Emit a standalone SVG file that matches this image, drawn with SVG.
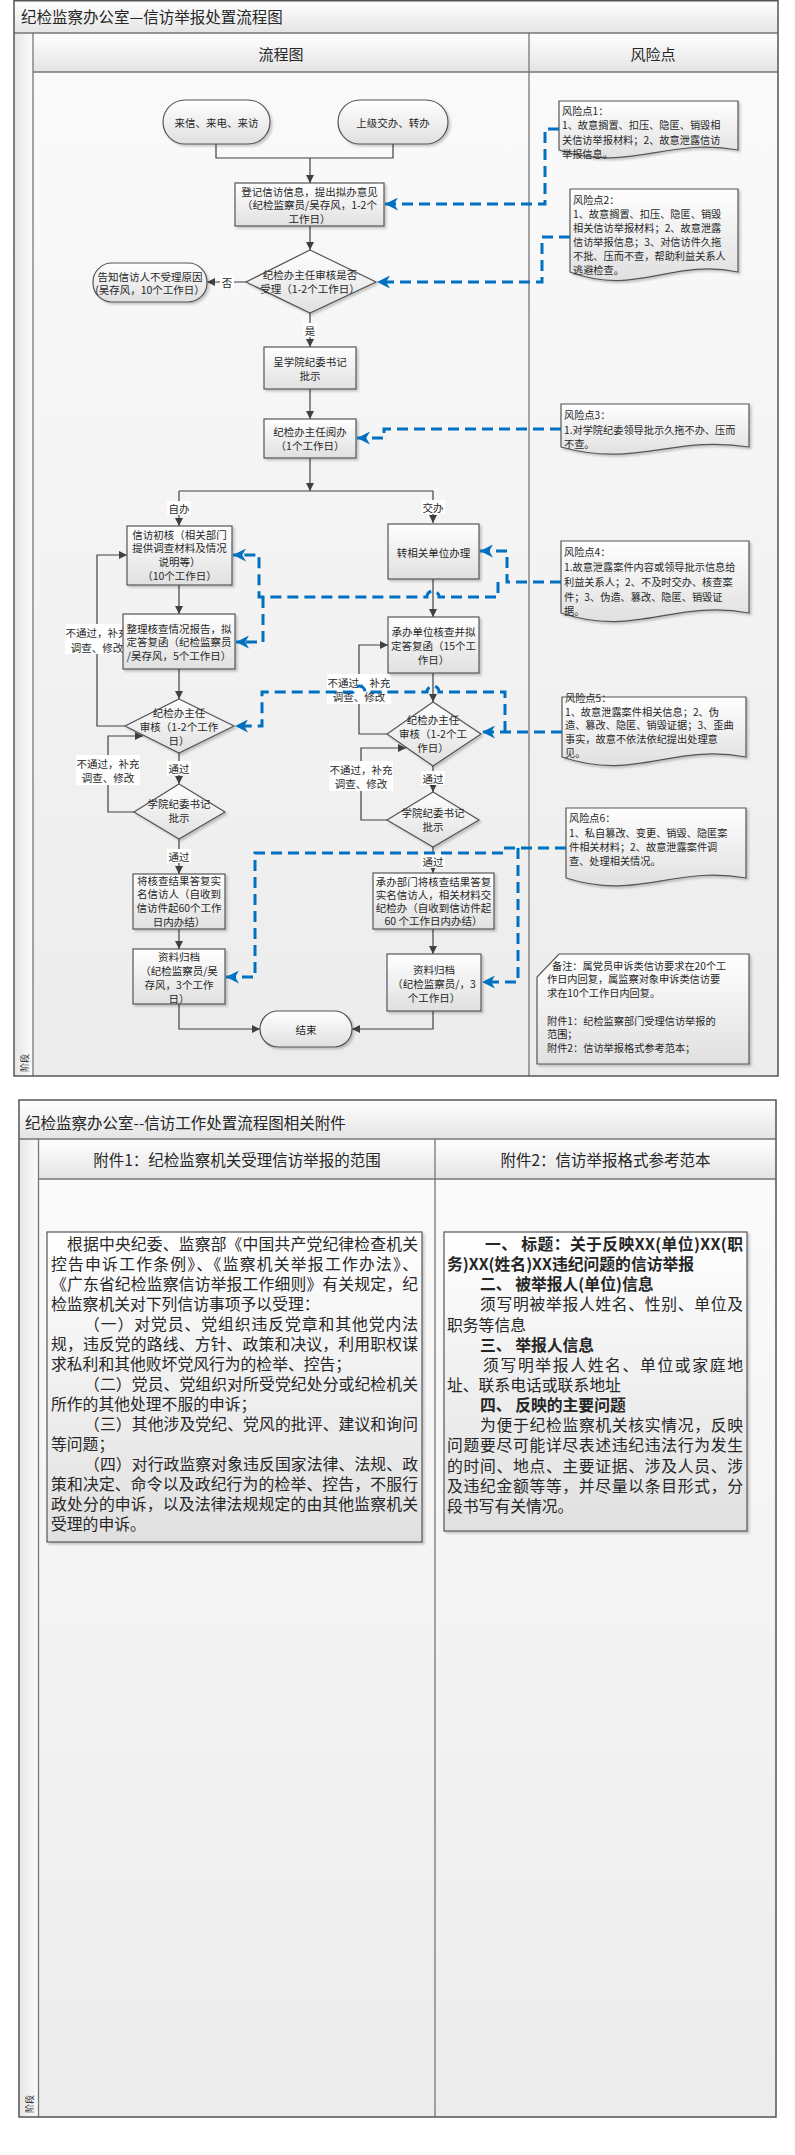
<svg xmlns="http://www.w3.org/2000/svg" width="795" height="2155" viewBox="0 0 795 2155">
<style>
.t{font-family:"Noto Sans CJK SC","Liberation Sans",sans-serif;fill:#262626}
.n{font-size:10.5px;text-anchor:middle;dominant-baseline:central}
.r{font-size:10.2px;dominant-baseline:central}
.h{font-size:15.5px;dominant-baseline:central}
.p{font-size:15.8px;dominant-baseline:central}
.b{font-weight:bold}
.box{fill:url(#gBox);stroke:#555;stroke-width:1.2;filter:url(#sh)}
.frame{fill:none;stroke:#555;stroke-width:1.5}
.sep{fill:none;stroke:#777;stroke-width:1.3}
.line{fill:none;stroke:#404040;stroke-width:1.2}
.arr{marker-end:url(#ah)}
.dash{fill:none;stroke:#0070c0;stroke-width:3;stroke-dasharray:11 6}
.darr{marker-end:url(#ab)}
.lbg{fill:#ffffff}
</style>
<defs>
<linearGradient id="gTitle" x1="0" y1="0" x2="0" y2="1"><stop offset="0" stop-color="#ffffff"/><stop offset="1" stop-color="#e4e4e4"/></linearGradient>
<linearGradient id="gBody" x1="0" y1="0" x2="0" y2="1"><stop offset="0" stop-color="#fafafa"/><stop offset="1" stop-color="#ececec"/></linearGradient>
<linearGradient id="gBox" x1="0" y1="0" x2="0" y2="1"><stop offset="0" stop-color="#ffffff"/><stop offset="1" stop-color="#e0e0e0"/></linearGradient>
<linearGradient id="gStrip" x1="0" y1="0" x2="1" y2="0"><stop offset="0" stop-color="#e6e6e6"/><stop offset="1" stop-color="#fbfbfb"/></linearGradient>
<filter id="sh" x="-10%" y="-10%" width="130%" height="130%"><feDropShadow dx="2" dy="2" stdDeviation="1.2" flood-color="#000" flood-opacity="0.2"/></filter>
<marker id="ah" viewBox="0 0 10 10" refX="10" refY="5" markerWidth="8" markerHeight="8" markerUnits="userSpaceOnUse" orient="auto"><path d="M0,0 L10,5 L0,10 z" fill="#404040"/></marker>
<marker id="ab" viewBox="0 0 12 12" refX="12" refY="6" markerWidth="13" markerHeight="13" markerUnits="userSpaceOnUse" orient="auto"><path d="M0,0 L12,6 L0,12 L3.5,6 z" fill="#0070c0"/></marker>
</defs>
<rect width="795" height="2155" fill="#ffffff"/>

<!-- Frame 1 -->
<g id="frame1">
<rect x="14" y="0.75" width="764" height="33" fill="url(#gTitle)"/>
<rect x="14" y="33" width="19" height="1043" fill="url(#gStrip)"/>
<rect x="33" y="33" width="745" height="39" fill="url(#gTitle)"/>
<rect x="33" y="72" width="496" height="1004" fill="url(#gBody)"/>
<rect x="529" y="72" width="249" height="1004" fill="url(#gBody)"/>
<path class="sep" d="M14,33 H778 M33,33 V1076 M33,72 H778 M529,33 V1076"/>
<rect class="frame" x="14" y="0.75" width="764" height="1075.25"/>
<text class="t h" x="21" y="16">纪检监察办公室—信访举报处置流程图</text>
<text class="t" x="281" y="53" font-size="15" text-anchor="middle" dominant-baseline="central">流程图</text>
<text class="t" x="653" y="53" font-size="15" text-anchor="middle" dominant-baseline="central">风险点</text>
<text class="t" x="24" y="1063" font-size="9" text-anchor="middle" dominant-baseline="central" transform="rotate(-90 24 1063)">阶段</text>
</g>

<!-- Frame 2 -->
<g id="frame2">
<rect x="19" y="1100" width="757" height="39" fill="url(#gTitle)"/>
<rect x="19" y="1139" width="19.5" height="978" fill="url(#gStrip)"/>
<rect x="38.5" y="1139" width="737.5" height="40" fill="url(#gTitle)"/>
<rect x="38.5" y="1179" width="396.5" height="938" fill="url(#gBody)"/>
<rect x="435" y="1179" width="341" height="938" fill="url(#gBody)"/>
<path class="sep" d="M19,1139 H776 M38.5,1139 V2117 M38.5,1179 H776 M435,1139 V2117"/>
<rect class="frame" x="19" y="1100" width="757" height="1017"/>
<text class="t h" x="25" y="1122">纪检监察办公室--信访工作处置流程图相关附件</text>
<text class="t h" x="237" y="1159" text-anchor="middle">附件1：纪检监察机关受理信访举报的范围</text>
<text class="t h" x="605.5" y="1159" text-anchor="middle">附件2：信访举报格式参考范本</text>
<text class="t" x="29" y="2104" font-size="9" text-anchor="middle" dominant-baseline="central" transform="rotate(-90 29 2104)">阶段</text>
</g>

<!-- Solid connectors and labels -->
<g id="connectors">
<path class="line" d="M216,144 V158 H393 V144"/>
<path class="line arr" d="M310,158 V183"/>
<path class="line arr" d="M310,226 V250"/>
<path class="line arr" d="M246,282 H207"/>
<path class="line arr" d="M310,313 V347"/>
<path class="line arr" d="M310,389 V419"/>
<path class="line arr" d="M310,458 V491"/>
<path class="line" d="M179,491 H433"/>
<path class="line arr" d="M179,491 V526"/>
<path class="line arr" d="M433,491 V523"/>
<path class="line arr" d="M179,585 V614"/>
<path class="line arr" d="M179,669 V699"/>
<path class="line arr" d="M125,726 H97 V555 H127"/>
<path class="line arr" d="M179,753 V784"/>
<path class="line arr" d="M134,812 H108 V736 H143"/>
<path class="line arr" d="M179,839 V874"/>
<path class="line arr" d="M179,929 V949"/>
<path class="line arr" d="M179,1004 V1029 H260"/>
<path class="line arr" d="M433,579 V617"/>
<path class="line arr" d="M433,673 V702"/>
<path class="line arr" d="M387,734 H359 V645 H388"/>
<path class="line arr" d="M433,766 V792"/>
<path class="line arr" d="M387,820 H361 V748 H406"/>
<path class="line arr" d="M433,847 V873"/>
<path class="line arr" d="M433,929 V954"/>
<path class="line arr" d="M433,1011 V1029 H352"/>

<rect class="lbg" x="220" y="275" width="14" height="14"/>
<text class="t n" x="227" y="282">否</text>
<rect class="lbg" x="303" y="323" width="14" height="14"/>
<text class="t n" x="310" y="330">是</text>
<rect class="lbg" x="167" y="501" width="24" height="14"/>
<text class="t n" x="179" y="508">自办</text>
<rect class="lbg" x="421" y="500" width="24" height="14"/>
<text class="t n" x="433" y="507">交办</text>
<rect class="lbg" x="65" y="624" width="64" height="30"/>
<text class="t n" x="97" y="632">不通过，补充</text>
<text class="t n" x="97" y="647">调查、修改</text>
<rect class="lbg" x="76" y="755" width="64" height="30"/>
<text class="t n" x="108" y="763">不通过，补充</text>
<text class="t n" x="108" y="777">调查、修改</text>
<rect class="lbg" x="167" y="761" width="24" height="14"/>
<text class="t n" x="179" y="768">通过</text>
<rect class="lbg" x="167" y="849" width="24" height="14"/>
<text class="t n" x="179" y="856">通过</text>
<rect class="lbg" x="327" y="674" width="64" height="30"/>
<text class="t n" x="359" y="682">不通过，补充</text>
<text class="t n" x="359" y="696">调查、修改</text>
<rect class="lbg" x="329" y="761" width="64" height="30"/>
<text class="t n" x="361" y="769">不通过，补充</text>
<text class="t n" x="361" y="783">调查、修改</text>
<rect class="lbg" x="421" y="771" width="24" height="14"/>
<text class="t n" x="433" y="778">通过</text>
<rect class="lbg" x="421" y="854" width="24" height="14"/>
<text class="t n" x="433" y="861">通过</text>
</g>

<!-- Nodes -->
<g id="n-start1"><rect class="box" x="163" y="100" width="107" height="44" rx="22"/><text class="t n" x="216.5" y="122">来信、来电、来访</text></g>
<g id="n-start2"><rect class="box" x="338" y="100" width="110" height="44" rx="22"/><text class="t n" x="393" y="122">上级交办、转办</text></g>
<g id="n-register"><rect class="box" x="235" y="183" width="149" height="43"/><text class="t n" x="309.5" y="191">登记信访信息，提出拟办意见</text><text class="t n" x="309.5" y="204">（纪检监察员/吴存风，1-2个</text><text class="t n" x="309.5" y="218">工作日）</text></g>
<g id="n-accept"><path class="box" d="M310,250 L376,282 L310,313 L246,282 Z"/><text class="t n" x="310" y="274">纪检办主任审核是否</text><text class="t n" x="310" y="288">受理（1-2个工作日）</text></g>
<g id="n-reject"><rect class="box" x="93" y="263" width="114" height="39" rx="19"/><text class="t n" x="150" y="276">告知信访人不受理原因</text><text class="t n" x="150" y="289">(吴存风，10个工作日）</text></g>
<g id="n-secretary"><rect class="box" x="264" y="347" width="92" height="42"/><text class="t n" x="310" y="361">呈学院纪委书记</text><text class="t n" x="310" y="375">批示</text></g>
<g id="n-director"><rect class="box" x="264" y="419" width="92" height="39"/><text class="t n" x="310" y="431">纪检办主任阅办</text><text class="t n" x="310" y="445">（1个工作日）</text></g>
<g id="n-initial"><rect class="box" x="127" y="526" width="105" height="59"/><text class="t n" x="179.5" y="534">信访初核（相关部门</text><text class="t n" x="179.5" y="547">提供调查材料及情况</text><text class="t n" x="179.5" y="561">说明等）</text><text class="t n" x="179.5" y="575">（10个工作日）</text></g>
<g id="n-transfer"><rect class="box" x="388" y="524" width="91" height="55"/><text class="t n" x="433.5" y="552">转相关单位办理</text></g>
<g id="n-report"><rect class="box" x="123" y="614" width="112" height="55"/><text class="t n" x="179" y="628">整理核查情况报告，拟</text><text class="t n" x="179" y="641">定答复函（纪检监察员</text><text class="t n" x="179" y="655">/吴存风，5个工作日）</text></g>
<g id="n-unit"><rect class="box" x="388" y="617" width="91" height="56"/><text class="t n" x="433.5" y="631">承办单位核查并拟</text><text class="t n" x="433.5" y="645">定答复函（15个工</text><text class="t n" x="433.5" y="659">作日）</text></g>
<g id="n-review1"><path class="box" d="M179,699 L234,726 L179,753 L125,726 Z"/><text class="t n" x="179" y="712">纪检办主任</text><text class="t n" x="179" y="726">审核（1-2个工作</text><text class="t n" x="179" y="740">日）</text></g>
<g id="n-approve1"><path class="box" d="M179,784 L225,812 L179,839 L134,812 Z"/><text class="t n" x="179" y="803">学院纪委书记</text><text class="t n" x="179" y="817">批示</text></g>
<g id="n-reply1"><rect class="box" x="133" y="874" width="92" height="55"/><text class="t n" x="179" y="880">将核查结果答复实</text><text class="t n" x="179" y="893">名信访人（自收到</text><text class="t n" x="179" y="907">信访件起60个工作</text><text class="t n" x="179" y="921">日内办结）</text></g>
<g id="n-archive1"><rect class="box" x="133" y="949" width="92" height="55"/><text class="t n" x="179" y="956">资料归档</text><text class="t n" x="179" y="970">（纪检监察员/吴</text><text class="t n" x="179" y="984">存风，3个工作</text><text class="t n" x="179" y="998">日）</text></g>
<g id="n-review2"><path class="box" d="M433,702 L481,734 L433,766 L387,734 Z"/><text class="t n" x="433" y="719">纪检办主任</text><text class="t n" x="433" y="733">审核（1-2个工</text><text class="t n" x="433" y="747">作日）</text></g>
<g id="n-approve2"><path class="box" d="M433,792 L479,820 L433,847 L387,820 Z"/><text class="t n" x="433" y="812">学院纪委书记</text><text class="t n" x="433" y="826">批示</text></g>
<g id="n-reply2"><rect class="box" x="373" y="873" width="121" height="56"/><text class="t n" x="433.5" y="881">承办部门将核查结果答复</text><text class="t n" x="433.5" y="894">实名信访人，相关材料交</text><text class="t n" x="433.5" y="907">纪检办（自收到信访件起</text><text class="t n" x="433.5" y="920">60 个工作日内办结）</text></g>
<g id="n-archive2"><rect class="box" x="387" y="954" width="94" height="57"/><text class="t n" x="434" y="969">资料归档</text><text class="t n" x="434" y="983">（纪检监察员/，3</text><text class="t n" x="434" y="997">个工作日）</text></g>
<g id="n-end"><rect class="box" x="260" y="1011" width="92" height="36" rx="18"/><text class="t n" x="306" y="1029">结束</text></g>

<!-- Risk points -->
<g id="risk1"><path class="box" d="M559,101 H738 V150 C666,137 631,173 559,150 Z"/>
<text class="t r" x="562" y="110">风险点1：</text><text class="t r" x="562" y="124">1、故意搁置、扣压、隐匿、销毁相</text><text class="t r" x="562" y="139">关信访举报材料；2、故意泄露信访</text><text class="t r" x="562" y="153">举报信息。</text></g>
<g id="risk2"><path class="box" d="M570,189 H738 V272 C671,258 637,297 570,272 Z"/>
<text class="t r" x="573" y="199">风险点2：</text><text class="t r" x="573" y="213">1、故意搁置、扣压、隐匿、销毁</text><text class="t r" x="573" y="227">相关信访举报材料；2、故意泄露</text><text class="t r" x="573" y="241">信访举报信息；3、对信访件久拖</text><text class="t r" x="573" y="255">不批、压而不查，帮助利益关系人</text><text class="t r" x="573" y="269">逃避检查。</text></g>
<g id="risk3"><path class="box" d="M561,404 H749 V447 C674,435 636,468 561,447 Z"/>
<text class="t r" x="564" y="414">风险点3：</text><text class="t r" x="564" y="429">1.对学院纪委领导批示久拖不办、压而</text><text class="t r" x="564" y="443">不查。</text></g>
<g id="risk4"><path class="box" d="M561,541 H749 V613 C674,599 636,638 561,613 Z"/>
<text class="t r" x="564" y="551">风险点4：</text><text class="t r" x="564" y="566">1.故意泄露案件内容或领导批示信息给</text><text class="t r" x="564" y="581">利益关系人；2、不及时交办、核查案</text><text class="t r" x="564" y="596">件；3、伪造、篡改、隐匿、销毁证</text><text class="t r" x="564" y="610">据。</text></g>
<g id="risk5"><path class="box" d="M562,697 H746 V757 C672,743 636,782 562,757 Z"/>
<text class="t r" x="565" y="697">风险点5：</text><text class="t r" x="565" y="711">1、故意泄露案件相关信息；2、伪</text><text class="t r" x="565" y="724">造、篡改、隐匿、销毁证据；3、歪曲</text><text class="t r" x="565" y="738">事实，故意不依法依纪提出处理意</text><text class="t r" x="565" y="752">见。</text></g>
<g id="risk6"><path class="box" d="M566,808 H746 V878 C674,865 638,901 566,878 Z"/>
<text class="t r" x="569" y="817">风险点6：</text><text class="t r" x="569" y="832">1、私自篡改、变更、销毁、隐匿案</text><text class="t r" x="569" y="846">件相关材料；2、故意泄露案件调</text><text class="t r" x="569" y="860">查、处理相关情况。</text></g>
<g id="note"><path class="box" d="M559,954 H749 V1064 H537 V977 Z"/>
<text class="t r" x="552" y="965" font-size="10.5">备注：属党员申诉类信访要求在20个工</text><text class="t r" x="547" y="978" font-size="10.5">作日内回复，属监察对象申诉类信访要</text><text class="t r" x="547" y="992" font-size="10.5">求在10个工作日内回复。</text><text class="t r" x="547" y="1020" font-size="10.5">附件1：纪检监察部门受理信访举报的</text><text class="t r" x="547" y="1033" font-size="10.5">范围；</text><text class="t r" x="547" y="1047" font-size="10.5">附件2：信访举报格式参考范本；</text></g>

<!-- Risk connectors (blue dashed) -->
<g id="risk-connectors">
<path class="dash darr" d="M559,129 H545 V204 H385"/>
<path class="dash darr" d="M570,237 H542 V282 H377"/>
<path class="dash darr" d="M561,429 H384 V438 H357"/>
<path class="dash darr" d="M561,582 H507 V551 H480"/>
<path class="dash darr" d="M498,582 V597 H439 A6,6 0 0 0 427,597 H259 V555 H233"/>
<path class="dash darr" d="M263,597 V642 H236"/>
<path class="dash darr" d="M562,732 H482"/>
<path class="dash darr" d="M505,732 V692 H439 A6,6 0 0 0 427,692 H365 A6,6 0 0 0 353,692 H262 V726 H235"/>
<path class="dash darr" d="M566,848 H503 V853 H255 V977 H226"/>
<path class="dash darr" d="M518,848 V982 H482"/>
</g>

<!-- Attachment 1 -->
<g id="attach1"><rect class="box" x="47" y="1232" width="375" height="310"/>
<text class="t p" x="67" y="1243" textLength="351" lengthAdjust="spacing">根据中央纪委、监察部《中国共产党纪律检查机关</text>
<text class="t p" x="51" y="1263" textLength="367" lengthAdjust="spacing">控告申诉工作条例》、《监察机关举报工作办法》、</text>
<text class="t p" x="51" y="1283" textLength="367" lengthAdjust="spacing">《广东省纪检监察信访举报工作细则》有关规定，纪</text>
<text class="t p" x="51" y="1303">检监察机关对下列信访事项予以受理：</text>
<text class="t p" x="84" y="1323" textLength="334" lengthAdjust="spacing">（一）对党员、党组织违反党章和其他党内法</text>
<text class="t p" x="51" y="1343" textLength="367" lengthAdjust="spacing">规，违反党的路线、方针、政策和决议，利用职权谋</text>
<text class="t p" x="51" y="1363">求私利和其他败坏党风行为的检举、控告；</text>
<text class="t p" x="84" y="1383" textLength="334" lengthAdjust="spacing">（二）党员、党组织对所受党纪处分或纪检机关</text>
<text class="t p" x="51" y="1403">所作的其他处理不服的申诉；</text>
<text class="t p" x="84" y="1423" textLength="334" lengthAdjust="spacing">（三）其他涉及党纪、党风的批评、建议和询问</text>
<text class="t p" x="51" y="1443">等问题；</text>
<text class="t p" x="84" y="1463" textLength="334" lengthAdjust="spacing">（四）对行政监察对象违反国家法律、法规、政</text>
<text class="t p" x="51" y="1483" textLength="367" lengthAdjust="spacing">策和决定、命令以及政纪行为的检举、控告，不服行</text>
<text class="t p" x="51" y="1503" textLength="367" lengthAdjust="spacing">政处分的申诉，以及法律法规规定的由其他监察机关</text>
<text class="t p" x="51" y="1523">受理的申诉。</text>
</g>

<!-- Attachment 2 -->
<g id="attach2"><rect class="box" x="444" y="1232" width="303" height="299"/>
<text class="t p b" x="485" y="1243" textLength="258" lengthAdjust="spacing">一、 标题：关于反映XX(单位)XX(职</text>
<text class="t p b" x="447" y="1263">务)XX(姓名)XX违纪问题的信访举报</text>
<text class="t p b" x="480" y="1283">二、 被举报人(单位)信息</text>
<text class="t p" x="480" y="1303.5" textLength="263" lengthAdjust="spacing">须写明被举报人姓名、性别、单位及</text>
<text class="t p" x="447" y="1324">职务等信息</text>
<text class="t p b" x="480" y="1344">三、 举报人信息</text>
<text class="t p" x="483" y="1364" textLength="260" lengthAdjust="spacing">须写明举报人姓名、单位或家庭地</text>
<text class="t p" x="447" y="1384">址、联系电话或联系地址</text>
<text class="t p b" x="480" y="1404">四、 反映的主要问题</text>
<text class="t p" x="480" y="1424" textLength="263" lengthAdjust="spacing">为便于纪检监察机关核实情况，反映</text>
<text class="t p" x="447" y="1444.5" textLength="296" lengthAdjust="spacing">问题要尽可能详尽表述违纪违法行为发生</text>
<text class="t p" x="447" y="1465" textLength="296" lengthAdjust="spacing">的时间、地点、主要证据、涉及人员、涉</text>
<text class="t p" x="447" y="1485" textLength="296" lengthAdjust="spacing">及违纪金额等等，并尽量以条目形式，分</text>
<text class="t p" x="447" y="1505">段书写有关情况。</text>
</g>
</svg>
